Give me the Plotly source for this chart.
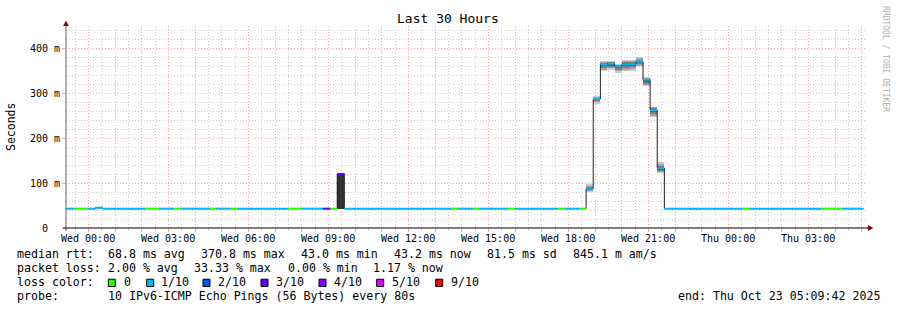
import plotly.graph_objects as go
from datetime import datetime, timedelta

# ---------------- data ----------------
range_start = "2025-10-21 23:09:42"
range_end = "2025-10-23 05:09:42"
step_start = "2025-10-21 22:56:00"   # first consolidated 16-minute step
step_minutes = 16

# median RTT per step (ms)
median_ms = [
    43, 43, 43, 43, 43, 45, 43, 43, 43, 43,
    43, 43, 43, 43, 43, 43, 43, 43, 43, 43,
    43, 43, 43, 43, 43, 43, 43, 43, 43, 43,
    43, 43, 43, 43, 43, 43, 43, 43, 43, 120,
    43, 43, 43, 43, 43, 43, 43, 43, 43, 43,
    43, 43, 43, 43, 43, 43, 43, 43, 43, 43,
    43, 43, 43, 43, 43, 43, 43, 43, 43, 43,
    43, 43, 43, 43, 87, 286.7, 363.6, 365, 359, 363.6,
    364, 369.6, 329.6, 262, 133, 43, 43, 43, 43, 43,
    43, 43, 43, 43, 43, 43, 43, 43, 43, 43,
    43, 43, 43, 43, 43, 43, 43, 43, 43, 43,
    43, 43, 43,
]

# loss level per step (index into loss_labels / loss_colors)
loss_level = [
    1, 1, 0, 0, 1, 1, 1, 1, 1, 1,
    1, 1, 0, 0, 1, 1, 0, 1, 1, 1,
    1, 0, 1, 1, 0, 1, 1, 1, 1, 1,
    1, 1, 0, 0, 1, 1, 1, 3, 0, 3,
    1, 1, 1, 1, 1, 1, 1, 1, 1, 1,
    1, 1, 1, 1, 1, 0, 1, 1, 0, 1,
    1, 1, 1, 0, 1, 1, 1, 1, 1, 1,
    0, 1, 1, 0, 1, 1, 1, 1, 1, 1,
    1, 1, 1, 1, 1, 1, 1, 1, 1, 1,
    1, 1, 1, 1, 1, 1, 0, 1, 1, 1,
    1, 1, 1, 1, 1, 1, 1, 0, 0, 0,
    1, 1, 1,
]

loss_labels = ["0", "1/10", "2/10", "3/10", "4/10", "5/10", "9/10"]
loss_colors = ["#26ff00", "#00b8ff", "#0059ff", "#5e00ff", "#7e00ff", "#dd00ff", "#ff0000"]

# smoke: sorted individual ping times (ms) for steps with visible spread
smoke_steps = [39, 74, 75, 76, 77, 78, 79, 80, 81, 82, 83, 84]
smoke_pings = [
    [43, 43, 43, 43, 43, 120, 121, 121, 121, None],
    [79, 82, 84, 86, 87, 87.5, 89, 91, 94, 98],
    [276, 279, 282, 285, 286, 287, 288, 289, 291, 293],
    [348, 352, 356, 360, 363, 364, 365, 367, 369, 371],
    [352, 355, 358, 362, 364, 365, 366, 368, 369, 371],
    [344, 348, 351, 355, 358, 359, 360, 362, 363, 365],
    [348, 352, 356, 360, 363, 364, 366, 368, 371, 374],
    [350, 353, 357, 361, 363, 364, 366, 368, 371, 374],
    [359, 361, 364, 367, 369, 370, 372, 374, 377, 380],
    [315, 318, 321, 325, 329, 330, 331, 332, 334, 336],
    [247, 250, 253, 257, 261, 262, 264, 266, 268, 270],
    [123, 125, 127, 130, 132, 133, 135, 138, 142, 146],
]
smoke_grays = ["#cacaca", "#a4a4a4", "#7e7e7e", "#585858", "#323232"]

y_ticks = [0, 100, 200, 300, 400]
y_tick_labels = ["0", "100 m", "200 m", "300 m", "400 m"]
x_label_start = "2025-10-22 00:00:00"
x_label_count = 10
title_text = "Last 30 Hours"

median_stats = ["68.8 ms avg", "370.8 ms max", "43.0 ms min", "43.2 ms now", "81.5 ms sd", "845.1 m am/s"]
loss_stats = ["2.00 % avg", "33.33 % max", "0.00 % min", "1.17 % now"]
probe_text = "10 IPv6-ICMP Echo Pings (56 Bytes) every 80s"
end_text = "end: Thu Oct 23 05:09:42 2025"

# ---------------- layout geometry ----------------
W, H = 897, 310
ML, MR, MT, MB = 66, 31, 26, 82
PW = W - ML - MR
PH = H - MT - MB
Y_MAX = 448.9


def px(x):
    return (x - ML) / PW


def py(y):
    return (H - MB - y) / PH


FMT = "%Y-%m-%d %H:%M:%S"
t0 = datetime.strptime(step_start, FMT)
step = timedelta(minutes=step_minutes)
n = len(median_ms)
starts = [t0 + step * k for k in range(n + 1)]
s = lambda d: d.strftime(FMT)

fig = go.Figure()

# smoke layers
for i, col in enumerate(smoke_grays):
    xs, bases, hs = [], [], []
    for k, p in zip(smoke_steps, smoke_pings):
        lo, hi = p[i], p[9 - i]
        if lo is None or hi is None:
            continue
        xs.append(s(starts[k] + step / 2))
        bases.append(lo)
        hs.append(hi - lo)
    fig.add_trace(go.Bar(x=xs, y=hs, base=bases, width=step_minutes * 60000,
                         marker=dict(color=col, line=dict(width=0)),
                         hoverinfo="skip", showlegend=False))

# median line
fig.add_trace(go.Scatter(x=[s(t) for t in starts], y=median_ms + [median_ms[-1]],
                         mode="lines", line=dict(color="#202020", width=1, shape="hv"),
                         hoverinfo="skip", showlegend=False))

# loss-coloured median bands
for ci, col in enumerate(loss_colors):
    xs, ys = [], []
    k = 0
    while k < n:
        if loss_level[k] != ci:
            k += 1
            continue
        j = k
        while j + 1 < n and loss_level[j + 1] == ci and median_ms[j + 1] == median_ms[k]:
            j += 1
        xs += [s(starts[k]), s(starts[j + 1]), None]
        ys += [median_ms[k], median_ms[k], None]
        k = j + 1
    if xs:
        fig.add_trace(go.Scatter(x=xs, y=ys, mode="lines",
                                 line=dict(color=col, width=2),
                                 hoverinfo="skip", showlegend=False))

MONO = "DejaVu Sans Mono"
ann = []
shapes = []

# y tick labels
for v, lab in zip(y_ticks, y_tick_labels):
    ann.append(dict(x=px(45), xref="paper", y=v, yref="y", text=lab.replace(" ", "\u00a0"),
                    showarrow=False, xanchor="center", yanchor="middle",
                    font=dict(family=MONO, size=10, color="#000000")))

# x tick labels (every 3 h)
xl0 = datetime.strptime(x_label_start, FMT)
for j in range(x_label_count):
    t = xl0 + timedelta(hours=3 * j)
    ann.append(dict(x=s(t), xref="x", y=py(238), yref="paper",
                    text=t.strftime("%a %H:%M").replace(" ", "\u00a0"),
                    showarrow=False, xanchor="center", yanchor="middle",
                    font=dict(family=MONO, size=10, color="#000000")))

hour_ticks = [s(xl0 + timedelta(hours=h)) for h in range(0, 30)]

# title, axis title, watermark
ann.append(dict(x=px(447.5), xref="paper", y=py(19), yref="paper", text=title_text.replace(" ", "\u00a0"),
                showarrow=False, xanchor="center", yanchor="middle",
                font=dict(family=MONO, size=13, color="#000000")))
ann.append(dict(x=px(11), xref="paper", y=py(127), yref="paper", text="Seconds",
                showarrow=False, xanchor="center", yanchor="middle", textangle=-90,
                font=dict(family=MONO, size=11.5, color="#000000")))
ann.append(dict(x=px(886), xref="paper", y=py(59), yref="paper", text="RRDTOOL / TOBI OETIKER".replace(" ", "\u00a0"),
                showarrow=False, xanchor="center", yanchor="middle", textangle=90,
                font=dict(family=MONO, size=8, color="#b0b0b0")))

LF = 11.6


def legend_text(txt, x, y, anchor="left"):
    ann.append(dict(x=px(x), xref="paper", y=py(y), yref="paper", text=txt.replace(" ", "\u00a0"),
                    showarrow=False, xanchor=anchor, yanchor="middle", borderpad=0,
                    font=dict(family=MONO, size=LF, color="#000000")))


row_y = [254.3, 268.3, 282.3, 296.2]
legend_text("median rtt:", 16, row_y[0])
for txt, x in zip(median_stats, [107.3, 200, 300, 393.3, 486, 572.3]):
    legend_text(txt, x, row_y[0])
legend_text("packet loss:", 16, row_y[1])
for txt, x in zip(loss_stats, [107.3, 193.3, 286.7, 371.7]):
    legend_text(txt, x, row_y[1])
legend_text("loss color:", 16, row_y[2])
box_x = [108.3, 146.7, 203, 261, 319, 376.7, 435.7]
lab_x = [123.3, 160, 216.7, 275, 332.7, 390.7, 450]
for lab, col, bx, lx in zip(loss_labels, loss_colors, box_x, lab_x):
    shapes.append(dict(type="rect", xref="paper", yref="paper",
                       x0=px(bx), x1=px(bx + 7), y0=py(286.5), y1=py(279.2),
                       fillcolor=col, line=dict(color="#000000", width=1)))
    legend_text(lab, lx, row_y[2])
legend_text("probe:", 16, row_y[3])
legend_text(probe_text, 107.3, row_y[3])
legend_text(end_text, 880.5, row_y[3], anchor="right")

# axis lines and arrows
shapes.append(dict(type="line", xref="paper", yref="paper", x0=px(66), x1=px(66),
                   y0=py(231), y1=py(25), line=dict(color="#606060", width=1)))
shapes.append(dict(type="line", xref="paper", yref="paper", x0=px(63), x1=px(869),
                   y0=py(228), y1=py(228), line=dict(color="#000000", width=1)))
shapes.append(dict(type="path", xref="paper", yref="paper",
                   path=f"M {px(63)} {py(26)} L {px(69)} {py(26)} L {px(66)} {py(20.5)} Z",
                   fillcolor="#7f1414", line=dict(width=0)))
shapes.append(dict(type="path", xref="paper", yref="paper",
                   path=f"M {px(868)} {py(225)} L {px(868)} {py(231)} L {px(873.5)} {py(228)} Z",
                   fillcolor="#7f1414", line=dict(width=0)))

MAJ = "#f4a8a8"
MIN = "#cccccc"
DASH = "1px,2px"

fig.update_layout(
    width=W, height=H,
    margin=dict(l=ML, r=MR, t=MT, b=MB, pad=0),
    paper_bgcolor="#ffffff", plot_bgcolor="#ffffff",
    barmode="overlay", bargap=0,
    showlegend=False,
    annotations=ann, shapes=shapes,
    xaxis=dict(type="date", range=[range_start, range_end],
               tickmode="array", tickvals=hour_ticks, showticklabels=False,
               showgrid=True, gridcolor=MAJ, griddash=DASH, gridwidth=1,
               ticks="outside", ticklen=3, tickcolor=MAJ,
               minor=dict(dtick=1800000, tick0=x_label_start, showgrid=True,
                          gridcolor=MIN, griddash=DASH, ticks="outside", ticklen=2, tickcolor=MIN),
               showline=False, zeroline=False, fixedrange=True),
    yaxis=dict(range=[0, Y_MAX], tickmode="array", tickvals=y_ticks, showticklabels=False,
               showgrid=True, gridcolor=MAJ, griddash=DASH, gridwidth=1,
               ticks="outside", ticklen=3, tickcolor=MAJ,
               minor=dict(dtick=20, tick0=0, showgrid=True, gridcolor=MIN, griddash=DASH),
               showline=False, zeroline=False, fixedrange=True),
)

fig.write_html("out.html")
